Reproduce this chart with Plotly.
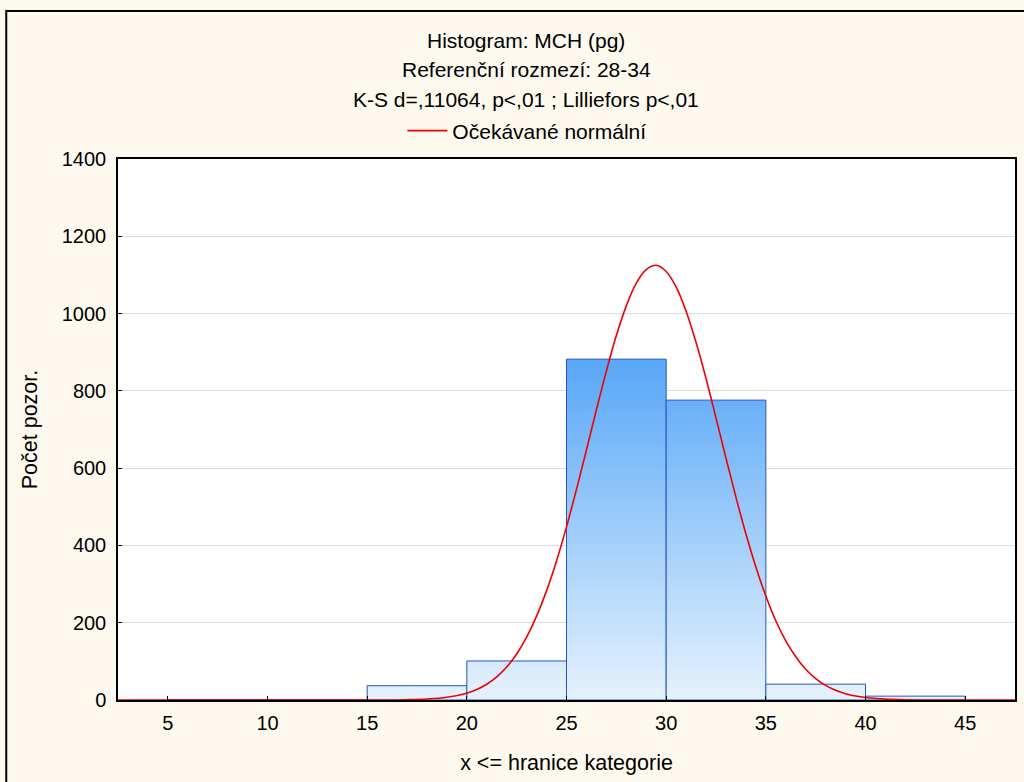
import plotly.graph_objects as go

# ---- data ----
bin_left = [5, 10, 15, 20, 25, 30, 35, 40]
bin_right = [10, 15, 20, 25, 30, 35, 40, 45]
counts = [1, 1, 37, 101, 882, 776, 41, 10]

curve_x = [2.5, 10, 15, 17, 18, 19, 20, 20.5, 21, 21.5, 22, 22.5, 23, 23.5, 24, 24.5,
           25, 25.5, 26, 26.5, 27, 27.5, 28, 28.5, 29, 29.5, 30, 30.5, 31, 31.5,
           32, 32.5, 33, 33.5, 34, 34.5, 35, 35.5, 36, 36.5, 37, 37.5, 38, 38.5,
           39, 39.5, 40, 41, 42, 44, 47.5]
curve_y = [0, 0, 0.1, 0.8, 2.5, 7, 17.7, 27.2, 40.7, 59.6, 85.3, 119, 162.8, 217, 283, 360,
           448, 545, 647, 751, 851, 943, 1020, 1079, 1114, 1125, 1109, 1069, 1006, 925,
           832, 730, 626, 525, 430, 344, 269, 205, 153, 112, 79.5, 55.4, 37.7, 25.0,
           16.2, 10.3, 6.4, 2.3, 0.7, 0.05, 0]

x_ticks = [5, 10, 15, 20, 25, 30, 35, 40, 45]
y_ticks = [0, 200, 400, 600, 800, 1000, 1200, 1400]

title_lines = ["Histogram: MCH (pg)", "Referenční rozmezí: 28-34",
               "K-S d=,11064, p<,01 ; Lilliefors p<,01"]
legend_name = "Očekávané normální"
x_title = "x <= hranice kategorie"
y_title = "Počet pozor."

FONT = "Liberation Sans, Arial, sans-serif"
FS_TITLE = 21
FS_TICK = 20
FS_AXT = 21.5
fig = go.Figure()

for l, r, h in zip(bin_left, bin_right, counts):
    fig.add_trace(go.Scatter(
        x=[l, l, r, r, l], y=[0, h, h, 0, 0],
        mode="lines", fill="toself",
        fillgradient=dict(type="vertical", start=0, stop=900,
                          colorscale=[[0, "#E6F2FD"], [1, "#55A5F7"]]),
        line=dict(color="#2156C9", width=1),
        showlegend=False, hoverinfo="skip"))

fig.add_trace(go.Scatter(
    x=curve_x, y=curve_y, mode="lines", name=legend_name,
    line=dict(color="#EE0000", width=1.6, shape="spline", smoothing=1.0)))

# plot area px: left 118, right 1017, top 159, bottom 700
def py(ypx):
    return (700 - ypx) / 541.0

def px(xpx):
    return (xpx - 118) / 899.0

annotations = []
for txt, ypix in zip(title_lines, [41, 70, 100]):
    annotations.append(dict(text=txt, x=px(527), y=py(ypix), xref="paper", yref="paper",
                            showarrow=False, xanchor="center", yanchor="middle",
                            font=dict(family=FONT, size=FS_TITLE, color="black")))

fig.update_layout(
    width=1024, height=782,
    margin=dict(l=118, r=7, t=159, b=82),
    paper_bgcolor="#FEF9EE", plot_bgcolor="white",
    annotations=annotations,
    showlegend=True,
    legend=dict(x=px(403), y=py(131), xanchor="left", yanchor="middle",
                orientation="h", bgcolor="rgba(0,0,0,0)",
                font=dict(family=FONT, size=FS_TITLE, color="black"), itemwidth=40),
    shapes=[dict(type="rect", xref="paper", yref="paper",
                 x0=px(6), x1=px(1040), y0=py(800), y1=py(11),
                 line=dict(color="black", width=2), layer="below")],
    font=dict(family=FONT, size=FS_TICK, color="black"),
)

fig.update_xaxes(range=[2.5, 47.5], tickvals=x_ticks, ticks="inside", ticklen=4,
                 tickcolor="black", showline=True, linecolor="black", linewidth=1.5,
                 mirror=True, showgrid=False, zeroline=False,
                 ticklabelstandoff=4,
                 title=dict(text=x_title, standoff=22,
                            font=dict(family=FONT, size=FS_AXT, color="black")),
                 tickfont=dict(family=FONT, size=FS_TICK, color="black"))
fig.update_yaxes(range=[0, 1400], tickvals=y_ticks, ticks="inside", ticklen=4,
                 tickcolor="black", showline=True, linecolor="black", linewidth=1.5,
                 mirror=True, showgrid=True, gridcolor="#DCDCDC", zeroline=False,
                 ticklabelstandoff=6,
                 title=dict(text=y_title, standoff=18,
                            font=dict(family=FONT, size=FS_AXT, color="black")),
                 tickfont=dict(family=FONT, size=FS_TICK, color="black"))

fig.write_html("out.html")
